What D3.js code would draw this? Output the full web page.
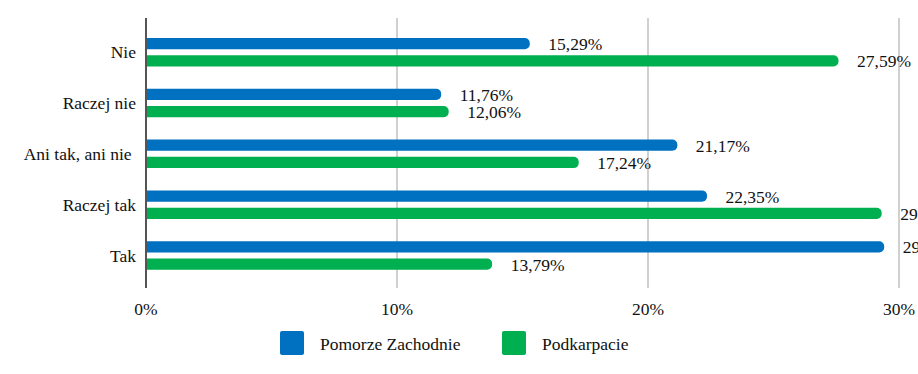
<!DOCTYPE html>
<html>
<head>
<meta charset="utf-8">
<script src="https://cdn.jsdelivr.net/npm/d3@7"></script>
<style>
  body { margin: 0; background: #fff; }
</style>
</head>
<body>
<div id="chart"></div>
<script>
// data
var categories = ["Nie", "Raczej nie", "Ani tak, ani nie ", "Raczej tak", "Tak"];
var series = ["Pomorze Zachodnie", "Podkarpacie"];
var pomorze = [15.29, 11.76, 21.17, 22.35, 29.41];
var podkarpacie = [27.59, 12.06, 17.24, 29.31, 13.79];
var xTicks = [0, 10, 20, 30];
var colors = ["#0070C0", "#00B050"];

var width = 918, height = 374;
var font = "Liberation Serif, DejaVu Serif, serif";
var fs = "17.5px";

var svg = d3.select("#chart")
  .append("svg")
  .attr("width", width)
  .attr("height", height)
  .attr("font-family", font)
  .attr("fill", "#111");

// scales
var x = d3.scaleLinear()
  .domain([0, 30])
  .range([146, 899]);

var y = d3.scaleBand()
  .domain(categories)
  .range([27, 281]);

var ySub = d3.scaleBand()
  .domain(series)
  .range([11, 39.5])
  .paddingInner(0.35);

var color = d3.scaleOrdinal().domain(series).range(colors);

// gridlines
svg.append("g")
  .selectAll("line")
  .data(xTicks.filter(function(d) { return d > 0; }))
  .enter()
  .append("line")
  .attr("x1", function(d) { return x(d); })
  .attr("x2", function(d) { return x(d); })
  .attr("y1", 18)
  .attr("y2", 288)
  .attr("stroke", "#d0d0d0")
  .attr("stroke-width", 2);

// tick labels
svg.append("g")
  .selectAll("text")
  .data(xTicks)
  .enter()
  .append("text")
  .attr("x", function(d) { return x(d); })
  .attr("y", 315)
  .attr("text-anchor", "middle")
  .attr("font-size", fs)
  .text(function(d) { return d + "%"; });

// rows of data
var rows = categories.map(function(c, i) {
  return [
    { cat: c, s: series[0], v: pomorze[i] },
    { cat: c, s: series[1], v: podkarpacie[i] }
  ];
});
var flat = [].concat.apply([], rows);

// bar with rounded right end
function barPath(d) {
  var x0 = x(0), x1 = x(d.v);
  var y0 = y(d.cat) + ySub(d.s), h = ySub.bandwidth();
  var r = Math.min(5, h / 2);
  return "M" + x0 + "," + y0 +
    "H" + (x1 - r) +
    "A" + r + "," + r + " 0 0 1 " + x1 + "," + (y0 + r) +
    "V" + (y0 + h - r) +
    "A" + r + "," + r + " 0 0 1 " + (x1 - r) + "," + (y0 + h) +
    "H" + x0 + "Z";
}

svg.append("g")
  .selectAll("path")
  .data(flat)
  .enter()
  .append("path")
  .attr("d", barPath)
  .attr("fill", function(d) { return color(d.s); });

// value labels
svg.append("g")
  .selectAll("text")
  .data(flat)
  .enter()
  .append("text")
  .attr("x", function(d) { return x(d.v) + 18.5; })
  .attr("y", function(d) { return y(d.cat) + ySub(d.s) + ySub.bandwidth() / 2 + 6.5; })
  .attr("font-size", fs)
  .text(function(d) { return d.v.toFixed(2).replace(".", ",") + "%"; });

// y axis line
svg.append("line")
  .attr("x1", x(0))
  .attr("x2", x(0))
  .attr("y1", 18)
  .attr("y2", 288)
  .attr("stroke", "#555")
  .attr("stroke-width", 2);

// category labels
svg.append("g")
  .selectAll("text")
  .data(categories)
  .enter()
  .append("text")
  .attr("x", 136)
  .attr("y", function(d) { return y(d) + y.bandwidth() / 2 + 6; })
  .attr("text-anchor", "end")
  .attr("font-size", fs)
  .style("white-space", "pre")
  .text(function(d) { return d; });

// legend
var legendX = [280, 502];
var legend = svg.append("g")
  .selectAll("g")
  .data(series)
  .enter()
  .append("g")
  .attr("transform", function(d, i) { return "translate(" + legendX[i] + ",331)"; });

legend.append("rect")
  .attr("width", 24)
  .attr("height", 24)
  .attr("rx", 2)
  .attr("fill", function(d) { return color(d); });

legend.append("text")
  .attr("x", 40)
  .attr("y", 19)
  .attr("font-size", fs)
  .text(function(d) { return d; });
</script>
</body>
</html>
